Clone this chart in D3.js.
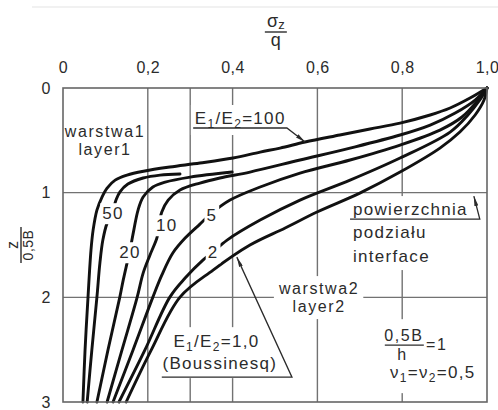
<!DOCTYPE html>
<html>
<head>
<meta charset="utf-8">
<script src="https://cdn.jsdelivr.net/npm/d3@7/dist/d3.min.js"></script>
<style>
  html, body { margin: 0; padding: 0; background: #fff; overflow: hidden; }
  svg { display: block; font-family: 'Liberation Sans', Arial, Helvetica, sans-serif; }
  .grid { stroke: #727272; stroke-width: 1.4; }
  .frame { fill: none; stroke: #666; stroke-width: 1.6; }
  .curve { fill: none; stroke: #111; stroke-width: 2.9; stroke-linecap: round; stroke-linejoin: round; }
  .note { fill: #2b2b2b; font-size: 17px; letter-spacing: 1.3px; }
  .note.small { font-size: 16px; letter-spacing: 1.6px; }
  .leader { fill: none; stroke: #2b2b2b; stroke-width: 1.3; }
  .axis text { fill: #2b2b2b; font-size: 16px; letter-spacing: 0.5px; }
</style>
</head>
<body>
<script>
'use strict';

// sigma_z/q (x) against depth z/0,5B (y), two-layer system, one curve per E1/E2
const xTicks = [0, 0.2, 0.4, 0.6, 0.8, 1.0];
const yTicks = [0, 1, 2, 3];
const xGrid = [0.2, 0.3, 0.4, 0.6, 0.8];
const yGrid = [1, 2];

const e100 = [[1.000, 0], [0.960, 0.096], [0.913, 0.191], [0.866, 0.258], [0.795, 0.335], [0.724, 0.392],
  [0.653, 0.449], [0.571, 0.516], [0.512, 0.574], [0.465, 0.612], [0.401, 0.669], [0.323, 0.717],
  [0.252, 0.755], [0.193, 0.793], [0.151, 0.832], [0.123, 0.880], [0.104, 0.956], [0.092, 1.042],
  [0.080, 1.166], [0.071, 1.358], [0.066, 1.549], [0.059, 1.998], [0.052, 2.505], [0.047, 3.0]];
const e50 = [[0.276, 0.822], [0.229, 0.832], [0.189, 0.860], [0.153, 0.918], [0.134, 0.994], [0.125, 1.071],
  [0.116, 1.195], [0.104, 1.291], [0.094, 1.453], [0.087, 1.673], [0.080, 1.998], [0.068, 2.505], [0.057, 3.0]];
const e20 = [[0.399, 0.803], [0.300, 0.851], [0.241, 0.899], [0.212, 0.946], [0.189, 1.042], [0.177, 1.166],
  [0.167, 1.358], [0.158, 1.549], [0.151, 1.673], [0.142, 1.836], [0.134, 1.998], [0.106, 2.505], [0.080, 3.0]];
const e10 = [[1.000, 0], [0.972, 0.115], [0.925, 0.239], [0.866, 0.354], [0.795, 0.449], [0.677, 0.574],
  [0.559, 0.688], [0.441, 0.803], [0.370, 0.860], [0.323, 0.908], [0.276, 0.975], [0.248, 1.071],
  [0.233, 1.185], [0.226, 1.310], [0.222, 1.424], [0.205, 1.597], [0.189, 1.769], [0.175, 1.998],
  [0.139, 2.505], [0.104, 3.0]];
const e5 = [[1.000, 0], [0.979, 0.115], [0.941, 0.277], [0.889, 0.402], [0.795, 0.545], [0.677, 0.688],
  [0.559, 0.813], [0.465, 0.946], [0.394, 1.071], [0.351, 1.195], [0.323, 1.300], [0.288, 1.434],
  [0.259, 1.577], [0.233, 1.788], [0.212, 1.998], [0.165, 2.505], [0.118, 3.0]];
const e2 = [[1.000, 0], [0.983, 0.115], [0.955, 0.258], [0.913, 0.421], [0.795, 0.669], [0.677, 0.880],
  [0.559, 1.071], [0.465, 1.262], [0.387, 1.453], [0.351, 1.577], [0.330, 1.644], [0.288, 1.816],
  [0.252, 1.998], [0.193, 2.505], [0.132, 3.0]];
const e1 = [[1.000, 0], [0.993, 0.115], [0.972, 0.258], [0.936, 0.421], [0.889, 0.574], [0.795, 0.803],
  [0.700, 1.004], [0.599, 1.185], [0.524, 1.338], [0.441, 1.501], [0.354, 1.740], [0.276, 1.998],
  [0.208, 2.505], [0.149, 3.0]];

const curves = [e100, e50, e20, e10, e5, e2, e1];
const curveNames = ['50', '20', '10', '5', '2'];
const curveNameAt = [[0.118, 1.195], [0.158, 1.568], [0.245, 1.310], [0.351, 1.214], [0.354, 1.568]];

const W = 498, H = 410;
const x = d3.scaleLinear().domain([0, 1]).range([63, 487]);
const y = d3.scaleLinear().domain([0, 3]).range([88, 402]);

const svg = d3.select('body').append('svg').attr('width', W).attr('height', H);
const defs = svg.append('defs');
defs.append('marker')
    .attr('id', 'arrow')
    .attr('viewBox', '0 0 10 4')
    .attr('refX', 10).attr('refY', 2)
    .attr('markerWidth', 10).attr('markerHeight', 4)
    .attr('markerUnits', 'userSpaceOnUse')
    .attr('orient', 'auto')
  .append('path')
    .attr('d', 'M0,0 L10,2 L0,4 Z')
    .attr('fill', '#2b2b2b');

// faint scan edge at the top
svg.append('line').attr('x1', 32).attr('x2', W).attr('y1', 7).attr('y2', 7)
    .attr('stroke', '#ececec').attr('stroke-width', 1.5);

const gridg = svg.append('g');
const maskg = svg.append('g');
const curveg = svg.append('g');
const labelg = svg.append('g');
const textg = svg.append('g');

gridg.selectAll('line.v').data(xGrid).enter().append('line')
    .classed('grid', true)
    .attr('x1', d => x(d)).attr('x2', d => x(d))
    .attr('y1', y(0)).attr('y2', y(3));
gridg.selectAll('line.h').data(yGrid).enter().append('line')
    .classed('grid', true)
    .attr('x1', x(0)).attr('x2', x(1))
    .attr('y1', d => y(d)).attr('y2', d => y(d));

const fmt = d => d === 0 ? '0' : d3.format('.1f')(d).replace('.', ',');
svg.append('g').classed('axis', true)
    .attr('transform', `translate(0,${y(0)})`)
    .call(d3.axisTop(x).tickValues(xTicks).tickFormat(fmt).tickSize(0).tickPadding(15))
    .call(g => g.select('.domain').remove());
svg.append('g').classed('axis', true)
    .attr('transform', `translate(${x(0)},0)`)
    .call(d3.axisLeft(y).tickValues(yTicks).tickFormat(d3.format('d')).tickSize(0).tickPadding(12))
    .call(g => g.select('.domain').remove());

// title sigma_z / q
const tx = x(0.502);
const title = svg.append('text').attr('x', tx).attr('y', 27).attr('text-anchor', 'middle')
    .attr('fill', '#2b2b2b').attr('font-size', 18);
title.append('tspan').text('σ');
title.append('tspan').text('z').attr('font-size', 13).attr('dy', 2);
svg.append('line').attr('x1', tx - 11).attr('x2', tx + 11).attr('y1', 32).attr('y2', 32)
    .attr('stroke', '#2b2b2b').attr('stroke-width', 1.4);
svg.append('text').attr('x', tx).attr('y', 46).attr('text-anchor', 'middle')
    .attr('fill', '#2b2b2b').attr('font-size', 18).text('q');

// y label z / 0,5B
const yl = svg.append('g').attr('transform', 'translate(21,245) rotate(-90)');
yl.append('text').attr('x', 0).attr('y', -3).attr('text-anchor', 'middle')
    .attr('fill', '#2b2b2b').attr('font-size', 16).text('z');
yl.append('line').attr('x1', -18).attr('x2', 18).attr('y1', 0).attr('y2', 0)
    .attr('stroke', '#2b2b2b').attr('stroke-width', 1.4);
yl.append('text').attr('x', 0).attr('y', 12).attr('text-anchor', 'middle')
    .attr('fill', '#2b2b2b').attr('font-size', 14).attr('letter-spacing', '0.5px').text('0,5B');

// annotations
function rich(sel, parts) {
  var sub = false;
  parts.forEach(p => {
    const s = sel.append('tspan').text(p[0]);
    if (p[1] && !sub) s.attr('dy', 4);
    if (!p[1] && sub) s.attr('dy', -4);
    if (p[1]) s.attr('font-size', 12);
    sub = !!p[1];
  });
}

const notes = [
  { pad: 0, lines: [
    { at: [0.099, 0.468], anchor: 'middle', small: true, parts: [['warstwa1']] },
    { at: [0.099, 0.641], anchor: 'middle', small: true, parts: [['layer1']] }] },
  { pad: 4, lines: [
    { at: [0.311, 0.344], anchor: 'start', parts: [['E'], ['1', 1], ['/E'], ['2', 1], ['=100']] }],
    leader: [[0.307, 0.382], [0.528, 0.382], [0.571, 0.516]] },
  { pad: 4, lines: [
    { at: [0.684, 1.214], anchor: 'start', parts: [['powierzchnia']] },
    { at: [0.684, 1.434], anchor: 'start', parts: [['podziału']] },
    { at: [0.684, 1.663], anchor: 'start', parts: [['interface']] }],
    leader: [[0.677, 1.252], [0.983, 1.252], [0.969, 1.033]] },
  { pad: 4, lines: [
    { at: [0.604, 1.969], anchor: 'middle', small: true, parts: [['warstwa2']] },
    { at: [0.604, 2.141], anchor: 'middle', small: true, parts: [['layer2']] }] },
  { pad: 5, lines: [
    { at: [0.362, 2.476], anchor: 'middle', parts: [['E'], ['1', 1], ['/E'], ['2', 1], ['=1,0']] },
    { at: [0.370, 2.686], anchor: 'middle', parts: [['(Boussinesq)']] }],
    leader: [[0.233, 2.763], [0.540, 2.763], [0.410, 1.616]] },
  { pad: 8, lines: [
    { at: [0.804, 2.419], anchor: 'middle', small: true, parts: [['0,5B']] },
    { at: [0.801, 2.600], anchor: 'middle', small: true, parts: [['h']] },
    { at: [0.856, 2.505], anchor: 'start', small: true, parts: [['=1']] },
    { at: [0.771, 2.772], anchor: 'start', parts: [['ν'], ['1', 1], ['=ν'], ['2', 1], ['=0,5']] }],
    bar: [[0.759, 2.457], [0.851, 2.457]] }
];

notes.forEach(n => {
  const g = textg.append('g');
  n.lines.forEach(l => {
    const t = g.append('text').classed('note', true).classed('small', !!l.small)
        .attr('x', x(l.at[0])).attr('y', y(l.at[1]))
        .attr('text-anchor', l.anchor);
    rich(t, l.parts);
  });
  if (n.bar) {
    g.append('line').classed('leader', true)
        .attr('x1', x(n.bar[0][0])).attr('x2', x(n.bar[1][0]))
        .attr('y1', y(n.bar[0][1])).attr('y2', y(n.bar[1][1]));
  }
  if (n.pad > 0) {
    const bb = g.node().getBBox();
    maskg.append('rect')
        .attr('x', bb.x - n.pad).attr('y', bb.y - n.pad)
        .attr('width', bb.width + 2 * n.pad).attr('height', bb.height + 2 * n.pad)
        .attr('fill', '#fff');
  }
  if (n.leader) {
    g.append('path').classed('leader', true)
        .attr('d', d3.line().x(d => x(d[0])).y(d => y(d[1]))(n.leader))
        .attr('marker-end', 'url(#arrow)');
  }
});

const line = d3.line()
    .x(d => x(d[0]))
    .y(d => y(d[1]))
    .curve(d3.curveCatmullRom.alpha(0.5));

curveg.selectAll('path').data(curves).enter().append('path')
    .classed('curve', true)
    .attr('d', line);

curveNames.forEach((name, i) => {
  const t = labelg.append('text').classed('note', true)
      .attr('x', x(curveNameAt[i][0])).attr('y', y(curveNameAt[i][1]))
      .attr('dy', '0.36em')
      .attr('text-anchor', 'middle')
      .attr('letter-spacing', '0.5px')
      .text(name);
  const bb = t.node().getBBox();
  labelg.insert('rect', 'text')
      .attr('x', bb.x - 2).attr('y', bb.y - 1)
      .attr('width', bb.width + 4).attr('height', bb.height + 2)
      .attr('fill', '#fff');
});

svg.append('rect').classed('frame', true)
    .attr('x', x(0)).attr('y', y(0))
    .attr('width', x(1) - x(0)).attr('height', y(3) - y(0));
</script>
</body>
</html>
